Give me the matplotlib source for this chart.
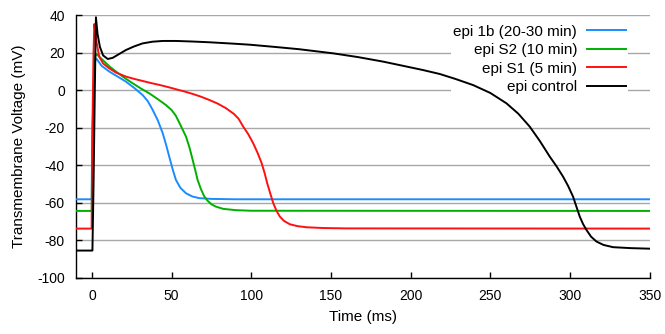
import matplotlib
matplotlib.use("Agg")
import matplotlib.pyplot as plt

plt.rcParams['font.family'] = ['Liberation Sans', 'DejaVu Sans']

# ---- data ----
t_blue = [-10, -0.1, 0.0, 0.8, 1.6, 2.2, 3.0, 6.0, 10.9, 16.0, 21.4, 26.5, 31.8, 35.0, 38.1, 41.3,
          44.4, 46.5, 48.5, 50.6, 52.7, 55.5, 59.0, 63.0, 67.4, 75.0, 90.0, 350]
v_blue = [-58.1, -58.1, -40.0, -5.0, 12.0, 17.0, 16.6, 13.0, 9.9, 7.3, 4.5, 1.2, -2.6, -5.8, -10.5, -16.0,
          -22.9, -29.0, -35.4, -42.0, -47.8, -52.0, -54.9, -56.6, -57.5, -57.9, -58.1, -58.1]

t_green = [-10, -0.1, 0.0, 0.8, 1.6, 2.2, 3.0, 6.7, 10.9, 15.1, 20.0, 25.5, 30.5, 36.0, 41.0, 46.4,
           50.0, 52.7, 55.5, 59.0, 61.2, 63.2, 64.8, 66.3, 68.3, 70.5, 72.5, 75.0, 77.8, 82.4, 90.4, 100, 350]
v_green = [-64.3, -64.3, -45.0, -5.0, 13.0, 18.5, 19.1, 16.1, 12.7, 9.9, 6.8, 3.7, 1.0, -1.7, -4.6, -7.9,
           -10.6, -13.7, -18.5, -24.7, -30.5, -37.1, -42.5, -47.8, -52.5, -56.6, -58.8, -60.8, -62.0, -63.2, -63.9, -64.2, -64.3]

t_red = [-10, -0.2, 0.3, 1.0, 1.5, 2.2, 3.0, 4.6, 7.0, 10.9, 15.0, 21.4, 26.5, 31.8, 37.0, 42.3, 47.5, 52.7,
         58.0, 63.2, 68.5, 73.6, 79.0, 84.1, 89.0, 92.0, 94.9, 98.0, 101.2, 104.0, 106.5, 108.3, 110.0,
         111.9, 113.8, 115.8, 117.9, 120.5, 124.2, 129.0, 134.7, 145.0, 160.0, 350]
v_red = [-73.7, -73.7, -20.0, 20.0, 35.2, 30.0, 24.9, 17.8, 14.2, 11.6, 9.4, 7.2, 6.0, 4.9, 3.8, 2.8, 1.7, 0.5,
         -0.7, -2.0, -3.5, -5.2, -7.2, -9.6, -12.6, -15.2, -19.4, -23.3, -28.3, -33.5, -38.9, -44.0, -49.6,
         -55.0, -60.2, -64.2, -67.3, -69.6, -71.4, -72.4, -73.0, -73.4, -73.6, -73.7]

t_black = [-10, 0.3, 1.0, 1.8, 2.5, 3.5, 5.0, 7.0, 9.9, 13.0, 17.0, 21.4, 26.5, 31.8, 38.0, 44.4, 52.7,
           63.0, 73.6, 88.0, 99.1, 115.0, 130.0, 151.4, 167.0, 182.7, 195.0, 207.8, 218.3, 228.0, 239.2,
           250.0, 260.1, 267.5, 274.7, 281.0, 287.3, 291.5, 295.6, 298.8, 301.9, 304.0, 306.1, 308.2,
           310.3, 313.2, 316.6, 321.0, 327.0, 338.0, 350]
v_black = [-85.4, -85.4, -50.0, 0.0, 38.8, 30.0, 23.0, 18.5, 16.6, 17.2, 19.2, 21.4, 23.3, 24.9, 25.8, 26.2, 26.2,
           25.9, 25.5, 24.8, 24.2, 23.0, 21.8, 19.6, 17.6, 15.2, 13.0, 10.7, 8.6, 6.0, 2.7,
           -1.5, -7.0, -12.5, -19.4, -27.0, -35.4, -40.5, -46.0, -51.0, -56.7, -62.0, -67.3, -71.3,
           -74.4, -78.0, -80.6, -82.4, -83.6, -84.1, -84.4]

series_labels = ["epi 1b (20-30 min)", "epi S2 (10 min)", "epi S1 (5 min)", "epi control"]
series_colors = ["#1a8cff", "#00b000", "#ff1010", "#000000"]

x_ticks = [0, 50, 100, 150, 200, 250, 300, 350]
y_ticks = [-100, -80, -60, -40, -20, 0, 20, 40]

# ---- figure ----
fig = plt.figure(figsize=(6.65, 3.34), dpi=100)
ax = fig.add_axes([0.1143, 0.1677, 0.8627, 0.7873])

for t, v, lab, col in zip([t_blue, t_green, t_red, t_black],
                          [v_blue, v_green, v_red, v_black],
                          series_labels, series_colors):
    ax.plot(t, v, color=col, lw=1.4, label=lab, solid_joinstyle='round', zorder=3)

ax.set_xlim(-10, 350)
ax.set_ylim(-100, 40)
ax.set_xticks(x_ticks)
ax.set_yticks(y_ticks)
ax.set_yticklabels([str(y) for y in y_ticks])

ax.yaxis.grid(True, color='#a8a8a8', lw=1.0)
ax.xaxis.grid(False)
ax.set_axisbelow(True)

for s in ['top', 'right']:
    ax.spines[s].set_visible(False)
for s in ['left', 'bottom']:
    ax.spines[s].set_linewidth(1.0)

ax.tick_params(axis='both', direction='in', length=4, width=1.0, labelsize=10, colors='black')
ax.tick_params(axis='x', pad=8)
ax.tick_params(axis='y', pad=8)

ax.set_xlabel("Time (ms)", fontsize=11, labelpad=5)
ax.set_ylabel("Transmembrane Voltage (mV)", fontsize=11, labelpad=8)

leg = ax.legend(loc='upper right', bbox_to_anchor=(0.975, 1.0), markerfirst=False,
                frameon=True, fancybox=False, framealpha=1.0, facecolor='white',
                edgecolor='white', fontsize=11, handlelength=2.55, handletextpad=0.65,
                labelspacing=0.3, borderpad=0.12)
leg.get_frame().set_linewidth(0)
leg.set_zorder(1.5)

fig.savefig("out.png", dpi=100)
